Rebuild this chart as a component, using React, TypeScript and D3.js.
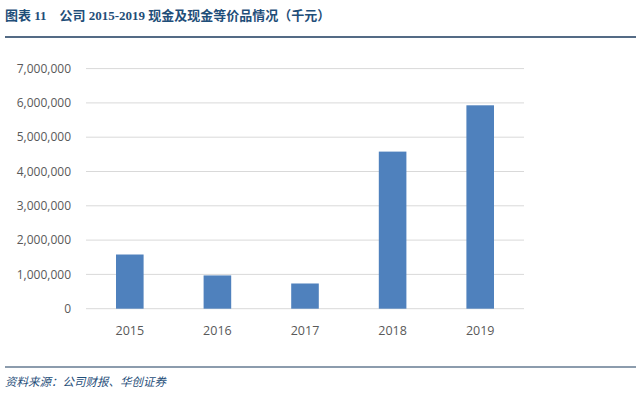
import React, { useRef, useEffect } from 'react';
import * as d3 from 'd3';

const years = ['2015', '2016', '2017', '2018', '2019'];
const cash = [1580000, 970000, 735000, 4580000, 5930000];
const y_ticks = [0, 1000000, 2000000, 3000000, 4000000, 5000000, 6000000, 7000000];

const title_text = '图表 11\u3000公司 2015-2019 现金及现金等价品情况（千元）';
const source_text = '资料来源：公司财报、华创证券';

export default function App() {
    const svg_ref = useRef(null);

    useEffect(() => {
        const svg = d3.select(svg_ref.current);
        svg.selectAll('*').remove();

        const width = 640;
        const height = 393;
        const margin = { left: 86, right: 116, top: 68.6, bottom: 84.3 };

        const x = d3.scaleBand(years, [margin.left, width - margin.right]).paddingInner(0.685).paddingOuter(0.3425);
        const y = d3.scaleLinear([0, 7000000], [height - margin.bottom, margin.top]);

        const navy = '#1b3a5c';

        svg.append('text')
            .attr('x', 5)
            .attr('y', 20)
            .attr('fill', '#1f4e79')
            .attr('font-size', 13)
            .attr('font-weight', 'bold')
            .attr('font-family', '"Liberation Serif", "Noto Sans CJK SC", serif')
            .text(title_text);

        svg.append('line')
            .attr('x1', 5).attr('x2', 636)
            .attr('y1', 37).attr('y2', 37)
            .attr('stroke', navy).attr('stroke-width', 1.6);

        svg.append('line')
            .attr('x1', 5).attr('x2', 636)
            .attr('y1', 367).attr('y2', 367)
            .attr('stroke', navy).attr('stroke-width', 1.2);

        svg.append('text')
            .attr('x', 5)
            .attr('y', 386)
            .attr('fill', '#1f4e79')
            .attr('font-size', 11.5)
            .attr('font-style', 'italic')
            .attr('font-family', '"Noto Sans CJK SC", sans-serif')
            .text(source_text);

        // grid
        svg.append('g')
            .selectAll('line')
            .data(y_ticks)
            .join('line')
            .attr('x1', margin.left)
            .attr('x2', width - margin.right)
            .attr('y1', (d) => y(d))
            .attr('y2', (d) => y(d))
            .attr('stroke', '#d9d9d9')
            .attr('stroke-width', 1);

        const fmt = d3.format(',');
        svg.append('g')
            .selectAll('text')
            .data(y_ticks)
            .join('text')
            .attr('x', 71)
            .attr('y', (d) => y(d))
            .attr('dy', '0.35em')
            .attr('text-anchor', 'end')
            .attr('fill', '#595959')
            .attr('font-size', 12)
            .attr('font-family', '"Open Sans", sans-serif')
            .text((d) => fmt(d));

        svg.append('g')
            .selectAll('rect')
            .data(cash)
            .join('rect')
            .attr('x', (_, i) => x(years[i]))
            .attr('y', (d) => y(d))
            .attr('width', x.bandwidth())
            .attr('height', (d) => y(0) - y(d))
            .attr('fill', '#4f81bd');

        svg.append('g')
            .selectAll('text')
            .data(years)
            .join('text')
            .attr('x', (d) => x(d) + x.bandwidth() / 2)
            .attr('y', 331)
            .attr('dy', '0.35em')
            .attr('text-anchor', 'middle')
            .attr('fill', '#595959')
            .attr('font-size', 12.5)
            .attr('font-family', '"Open Sans", sans-serif')
            .text((d) => d);
    }, []);

    return (
        <svg ref={svg_ref} width={640} height={393} style={{ position: 'absolute', left: 0, top: 0, background: '#fff' }}></svg>
    );
}
